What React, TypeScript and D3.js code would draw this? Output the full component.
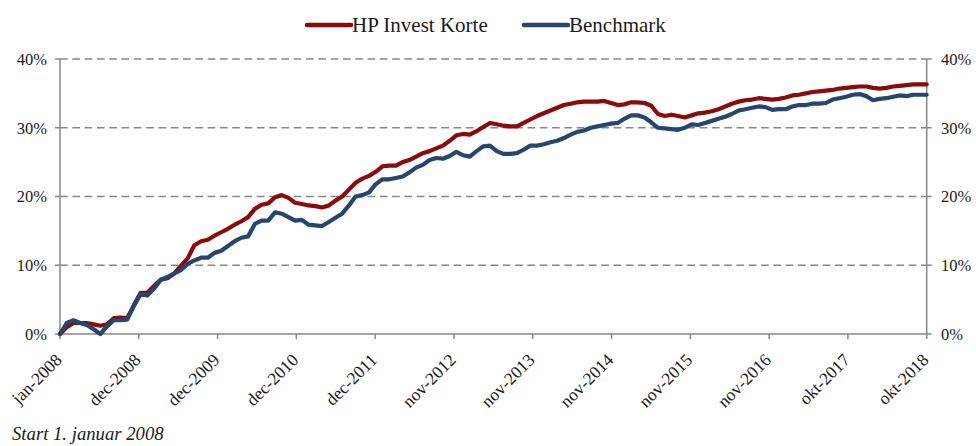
import React from "react";
import * as d3 from "d3";

const hpInvestKorte = [
  0, 1.0, 1.6, 1.6, 1.6, 1.4, 1.2, 1.4, 2.3, 2.4, 2.3, 4.2, 6.0, 6.0, 7.0, 7.9, 8.1, 8.8, 9.9, 11.0,
  12.9, 13.5, 13.7, 14.3, 14.8, 15.3, 15.9, 16.4, 17.0, 18.2, 18.8, 19.0, 19.9, 20.2, 19.8, 19.1, 18.9, 18.7, 18.6, 18.4,
  18.7, 19.4, 20.0, 21.0, 22.0, 22.6, 23.0, 23.6, 24.4, 24.5, 24.5, 25.0, 25.3, 25.8, 26.3, 26.6, 27.0, 27.4, 28.1, 28.9,
  29.1, 29.0, 29.5, 30.1, 30.7, 30.5, 30.3, 30.2, 30.2, 30.7, 31.2, 31.7, 32.1, 32.5, 32.9, 33.3, 33.5, 33.7, 33.8, 33.8,
  33.8, 33.9, 33.6, 33.3, 33.4, 33.7, 33.7, 33.6, 33.2, 32.0, 31.7, 31.9, 31.7, 31.5, 31.8, 32.1, 32.2, 32.4, 32.7, 33.1,
  33.5, 33.8, 34.0, 34.1, 34.3, 34.2, 34.1, 34.2, 34.4, 34.7, 34.8, 35.0, 35.2, 35.3, 35.4, 35.5, 35.7, 35.8, 35.9, 36.0,
  36.0, 35.8, 35.7, 35.8, 36.0, 36.1, 36.2, 36.3, 36.3, 36.3,
];

const benchmark = [
  0, 1.6, 2.0, 1.6, 1.3, 0.7, 0.0, 1.1, 2.0, 2.0, 2.1, 4.1, 5.8, 5.6, 6.6, 7.9, 8.3, 8.8, 9.3, 10.2,
  10.7, 11.1, 11.1, 11.8, 12.1, 12.8, 13.5, 14.0, 14.2, 16.0, 16.5, 16.5, 17.7, 17.5, 17.0, 16.5, 16.6, 15.9, 15.8, 15.7,
  16.3, 16.9, 17.5, 18.7, 20.0, 20.2, 20.6, 21.8, 22.5, 22.5, 22.7, 22.9, 23.5, 24.2, 24.6, 25.3, 25.6, 25.5, 25.9, 26.5,
  26.0, 25.8, 26.6, 27.3, 27.4, 26.6, 26.2, 26.2, 26.3, 26.8, 27.4, 27.4, 27.6, 27.9, 28.1, 28.5, 29.0, 29.4, 29.6, 30.0,
  30.2, 30.4, 30.6, 30.7, 31.3, 31.8, 31.8, 31.5, 30.8, 30.0, 29.9, 29.8, 29.7, 30.0, 30.5, 30.4, 30.7, 31.0, 31.3, 31.6,
  32.0, 32.5, 32.7, 32.9, 33.1, 33.0, 32.6, 32.7, 32.7, 33.1, 33.3, 33.3, 33.5, 33.5, 33.6, 34.1, 34.3, 34.5, 34.8, 34.9,
  34.6, 34.0, 34.2, 34.3, 34.5, 34.7, 34.6, 34.8, 34.8, 34.8,
];

const xTickLabels = [
  "jan-2008", "dec-2008", "dec-2009", "dec-2010", "dec-2011", "nov-2012",
  "nov-2013", "nov-2014", "nov-2015", "nov-2016", "okt-2017", "okt-2018",
];

const yTicks = [0, 10, 20, 30, 40];

const seriesNames = ["HP Invest Korte", "Benchmark"];
const seriesColors = ["#8B0A0A", "#27466E"];

const W = 976;
const H = 446;
const left = 60;
const right = 926.7;
const top = 59;
const bottom = 334;
const axisColor = "#878787";
const textColor = "#1a1a1a";
const serif = "'Liberation Serif', 'Times New Roman', serif";

export default function App() {
  const n = hpInvestKorte.length;
  const x = d3.scaleLinear().domain([0, n - 1]).range([left, right]);
  const y = d3.scaleLinear().domain([0, 40]).range([bottom, top]);
  const line = d3
    .line<number>()
    .x((_, i) => x(i))
    .y((d) => y(d));

  const tickPos = xTickLabels.map((_, k) => (k * (n - 1)) / (xTickLabels.length - 1));
  const series = [hpInvestKorte, benchmark];

  return (
    <svg width={W} height={H} style={{ position: "absolute", left: 0, top: 0, background: "#fff" }}>
      {yTicks
        .filter((t) => t > 0)
        .map((t) => (
          <line
            key={"g" + t}
            x1={left}
            x2={right}
            y1={y(t)}
            y2={y(t)}
            stroke={axisColor}
            strokeWidth={1.5}
            strokeDasharray="7.7,4.6"
          />
        ))}
      <line x1={left} x2={left} y1={top} y2={bottom} stroke={axisColor} strokeWidth={1.5} />
      <line x1={right} x2={right} y1={top} y2={bottom} stroke={axisColor} strokeWidth={1.5} />
      <line x1={left} x2={right} y1={bottom} y2={bottom} stroke={axisColor} strokeWidth={1.5} />
      {yTicks.map((t) => (
        <g key={"yt" + t}>
          <line x1={left - 5} x2={left} y1={y(t)} y2={y(t)} stroke={axisColor} strokeWidth={1.5} />
          <line x1={right} x2={right + 5} y1={y(t)} y2={y(t)} stroke={axisColor} strokeWidth={1.5} />
          <text x={47} y={y(t)} dy="0.35em" textAnchor="end" fontFamily={serif} fontSize={16.5} fill={textColor}>
            {t + "%"}
          </text>
          <text x={941} y={y(t)} dy="0.35em" textAnchor="start" fontFamily={serif} fontSize={16.5} fill={textColor}>
            {t + "%"}
          </text>
        </g>
      ))}
      {tickPos.map((p, k) => (
        <g key={"xt" + k}>
          <line x1={x(p)} x2={x(p)} y1={bottom} y2={bottom + 5} stroke={axisColor} strokeWidth={1.5} />
          <text
            transform={`translate(${x(p) + 3},${bottom + 27}) rotate(-45)`}
            textAnchor="end"
            fontFamily={serif}
            fontSize={17.5}
            fill={textColor}
          >
            {xTickLabels[k]}
          </text>
        </g>
      ))}
      {series.map((s, i) => (
        <path
          key={"s" + i}
          d={line(s) || ""}
          fill="none"
          stroke={seriesColors[i]}
          strokeWidth={4.2}
          strokeLinejoin="round"
          strokeLinecap="round"
        />
      ))}
      {[307, 524].map((lx, i) => (
        <g key={"l" + i}>
          <line x1={lx} x2={lx + 44} y1={25} y2={25} stroke={seriesColors[i]} strokeWidth={4.5} strokeLinecap="round" />
          <text x={lx + 45} y={32} fontFamily={serif} fontSize={21} fill={textColor}>
            {seriesNames[i]}
          </text>
        </g>
      ))}
      <text x={12} y={440} fontFamily={serif} fontStyle="italic" fontSize={18.7} fill={textColor}>
        Start 1. januar 2008
      </text>
    </svg>
  );
}
